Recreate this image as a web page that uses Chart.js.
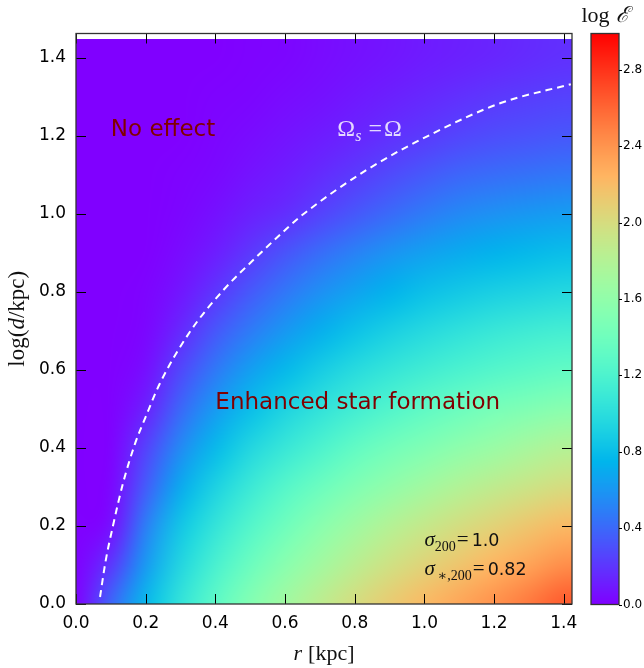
<!DOCTYPE html>
<html>
<head>
<meta charset="utf-8">
<script src="https://cdn.jsdelivr.net/npm/chart.js@4.4.1/dist/chart.umd.min.js"></script>
<style>
  html, body { margin: 0; padding: 0; background: #fff; }
  #wrap { position: relative; width: 644px; height: 668px; }
  #wrap canvas { position: absolute; left: 0; top: 0; }
</style>
</head>
<body>
<div id="wrap">
  <canvas id="main" width="644" height="668"></canvas>
  <canvas id="cbar" width="644" height="668"></canvas>
</div>
<script>
// grid nodes of the map
const rGrid = [0.0, 0.1, 0.2, 0.3, 0.4, 0.5, 0.6, 0.7, 0.8, 0.9, 1.0, 1.1, 1.2, 1.3, 1.4];
const dGrid = [0.0, 0.1, 0.2, 0.3, 0.4, 0.5, 0.6, 0.7, 0.8, 0.9, 1.0, 1.1, 1.2, 1.3, 1.4];

// log E, one row per d (bottom row first)
const logE = [
  [0, 0.40, 0.78, 1.05, 1.30, 1.52, 1.70, 1.86, 2.00, 2.12, 2.22, 2.32, 2.42, 2.53, 2.65], // d = 0.0
  [0, 0.20, 0.62, 0.95, 1.18, 1.38, 1.55, 1.70, 1.84, 1.96, 2.06, 2.15, 2.24, 2.33, 2.43], // d = 0.1
  [0, 0.04, 0.50, 0.85, 1.05, 1.24, 1.40, 1.55, 1.68, 1.80, 1.90, 1.99, 2.07, 2.15, 2.22], // d = 0.2
  [0, 0.01, 0.35, 0.70, 0.92, 1.10, 1.25, 1.38, 1.50, 1.60, 1.70, 1.79, 1.87, 1.94, 2.00], // d = 0.3
  [0, 0.00, 0.25, 0.55, 0.78, 0.95, 1.08, 1.20, 1.32, 1.42, 1.50, 1.58, 1.65, 1.73, 1.80], // d = 0.4
  [0, 0.00, 0.12, 0.40, 0.62, 0.80, 0.93, 1.04, 1.14, 1.23, 1.31, 1.38, 1.45, 1.50, 1.55], // d = 0.5
  [0, 0.00, 0.05, 0.27, 0.47, 0.64, 0.77, 0.88, 0.98, 1.06, 1.13, 1.19, 1.24, 1.28, 1.32], // d = 0.6
  [0, 0.00, 0.02, 0.15, 0.33, 0.48, 0.61, 0.72, 0.82, 0.90, 0.97, 1.03, 1.08, 1.12, 1.15], // d = 0.7
  [0, 0.00, 0.01, 0.08, 0.20, 0.34, 0.46, 0.57, 0.66, 0.74, 0.81, 0.86, 0.90, 0.93, 0.96], // d = 0.8
  [0, 0.00, 0.00, 0.04, 0.11, 0.21, 0.32, 0.42, 0.51, 0.59, 0.65, 0.70, 0.74, 0.77, 0.80], // d = 0.9
  [0, 0.00, 0.00, 0.02, 0.06, 0.12, 0.17, 0.25, 0.33, 0.41, 0.48, 0.54, 0.58, 0.61, 0.63], // d = 1.0
  [0, 0.00, 0.00, 0.01, 0.03, 0.07, 0.11, 0.16, 0.22, 0.28, 0.34, 0.39, 0.42, 0.44, 0.46], // d = 1.1
  [0, 0.00, 0.00, 0.00, 0.02, 0.04, 0.07, 0.10, 0.14, 0.18, 0.22, 0.26, 0.29, 0.31, 0.33], // d = 1.2
  [0, 0.00, 0.00, 0.00, 0.01, 0.02, 0.04, 0.06, 0.09, 0.12, 0.15, 0.18, 0.21, 0.23, 0.25], // d = 1.3
  [0, 0.00, 0.00, 0.00, 0.00, 0.01, 0.02, 0.04, 0.06, 0.08, 0.10, 0.12, 0.14, 0.16, 0.18]  // d = 1.4
];

// dashed Omega_s = Omega curve
const curveR = [0.069, 0.085, 0.106, 0.135, 0.169, 0.200, 0.241, 0.327, 0.423, 0.518, 0.605, 0.643, 0.834, 1.025, 1.217, 1.420];
const curveD = [0.018, 0.110, 0.200, 0.310, 0.410, 0.480, 0.566, 0.698, 0.805, 0.890, 0.963, 0.993, 1.113, 1.207, 1.284, 1.333];

const xTicks = [0.0, 0.2, 0.4, 0.6, 0.8, 1.0, 1.2, 1.4];
const yTicks = [0.0, 0.2, 0.4, 0.6, 0.8, 1.0, 1.2, 1.4];
const cbTicks = [0.0, 0.4, 0.8, 1.2, 1.6, 2.0, 2.4, 2.8];

const X_MAX = 1.4235;
const Y_MAX = 1.463;
const CB_MAX = 2.99;

const SERIF = '"Liberation Serif", "DejaVu Serif", serif';
const SANS = '"DejaVu Sans", sans-serif';

// matplotlib "rainbow"
function rainbow(t) {
  t = Math.min(1, Math.max(0, t));
  const r = Math.min(1, Math.abs(2 * t - 0.5));
  const g = Math.sin(Math.PI * t);
  const b = Math.cos(Math.PI * t / 2);
  return [Math.round(r * 255), Math.round(g * 255), Math.round(b * 255)];
}

// draw a list of text runs one after another from x (left) at baseline y
function drawRuns(ctx, x, y, runs, color) {
  ctx.save();
  ctx.fillStyle = color;
  ctx.textBaseline = 'alphabetic';
  ctx.textAlign = 'left';
  let cx = x;
  runs.forEach(run => {
    if (run.gap) { cx += run.gap; return; }
    ctx.font = run.font;
    ctx.fillText(run.t, cx, y + (run.dy || 0));
    cx += ctx.measureText(run.t).width;
  });
  ctx.restore();
  return cx;
}

function runsWidth(ctx, runs) {
  let w = 0;
  ctx.save();
  runs.forEach(run => {
    if (run.gap) { w += run.gap; return; }
    ctx.font = run.font;
    w += ctx.measureText(run.t).width;
  });
  ctx.restore();
  return w;
}

const heatmapPlugin = {
  id: 'heatmap',
  beforeDatasetsDraw(chart) {
    const { ctx, chartArea: a, scales: { x, y } } = chart;
    const nc = rGrid.length, nr = dGrid.length;
    const off = document.createElement('canvas');
    off.width = nc; off.height = nr;
    const octx = off.getContext('2d');
    const img = octx.createImageData(nc, nr);
    for (let j = 0; j < nr; j++) {
      for (let i = 0; i < nc; i++) {
        const c = rainbow(logE[j][i] / CB_MAX);
        const k = ((nr - 1 - j) * nc + i) * 4;
        img.data[k] = c[0]; img.data[k + 1] = c[1]; img.data[k + 2] = c[2]; img.data[k + 3] = 255;
      }
    }
    octx.putImageData(img, 0, 0);
    const dr = rGrid[1] - rGrid[0], dd = dGrid[1] - dGrid[0];
    const x0 = x.getPixelForValue(rGrid[0] - dr / 2);
    const x1 = x.getPixelForValue(rGrid[nc - 1] + dr / 2);
    const y0 = y.getPixelForValue(dGrid[nr - 1] + dd / 2);
    const y1 = y.getPixelForValue(dGrid[0] - dd / 2);
    ctx.save();
    ctx.beginPath();
    ctx.rect(a.left, a.top, a.width, a.height);
    ctx.clip();
    ctx.imageSmoothingEnabled = true;
    ctx.imageSmoothingQuality = 'high';
    ctx.drawImage(off, x0, y0, x1 - x0, y1 - y0);
    ctx.restore();
  }
};

const framePlugin = {
  id: 'frame',
  afterDatasetsDraw(chart) {
    const { ctx, chartArea: a, scales: { x, y } } = chart;

    // text inside the map
    drawRuns(ctx, x.getPixelForValue(0.1), y.getPixelForValue(1.2),
      [{ t: 'No effect', font: '23px ' + SANS }], '#800000');
    drawRuns(ctx, x.getPixelForValue(0.4), y.getPixelForValue(0.5),
      [{ t: 'Enhanced star formation', font: '23px ' + SANS }], '#800000');
    drawRuns(ctx, x.getPixelForValue(0.75), y.getPixelForValue(1.2), [
      { t: 'Ω', font: '24px ' + SERIF },
      { t: 's', font: 'italic 16px ' + SERIF, dy: 5 },
      { gap: 7 },
      { t: '=', font: '24px ' + SERIF },
      { gap: 2 },
      { t: 'Ω', font: '24px ' + SERIF }
    ], 'rgba(255,255,255,0.82)');
    drawRuns(ctx, x.getPixelForValue(1.0), y.getPixelForValue(0.15), [
      { t: 'σ', font: 'italic 21px ' + SERIF },
      { t: '200', font: '14px ' + SERIF, dy: 5 },
      { gap: 1 },
      { t: '=', font: '21px ' + SERIF },
      { gap: 3 },
      { t: '1.0', font: '17.5px ' + SANS }
    ], '#111');
    drawRuns(ctx, x.getPixelForValue(1.0), y.getPixelForValue(0.075), [
      { t: 'σ', font: 'italic 21px ' + SERIF },
      { gap: 3 },
      { t: '∗,200', font: '14px ' + SERIF, dy: 5 },
      { gap: 1 },
      { t: '=', font: '21px ' + SERIF },
      { gap: 3 },
      { t: '0.82', font: '17.5px ' + SANS }
    ], '#111');

    // inward ticks on all four sides
    ctx.save();
    ctx.strokeStyle = '#000';
    ctx.lineWidth = 1;
    ctx.beginPath();
    xTicks.forEach(v => {
      const px = Math.round(x.getPixelForValue(v)) + 0.5;
      ctx.moveTo(px, a.bottom); ctx.lineTo(px, a.bottom - 10);
      ctx.moveTo(px, a.top); ctx.lineTo(px, a.top + 10);
    });
    yTicks.forEach(v => {
      const py = Math.round(y.getPixelForValue(v)) + 0.5;
      ctx.moveTo(a.left, py); ctx.lineTo(a.left + 10, py);
      ctx.moveTo(a.right, py); ctx.lineTo(a.right - 10, py);
    });
    ctx.stroke();
    ctx.strokeStyle = '#333';
    ctx.lineWidth = 1.3;
    ctx.strokeRect(a.left, a.top, a.width, a.height);
    ctx.restore();

    // axis titles
    const xr = [
      { t: 'r', font: 'italic 22px ' + SERIF },
      { gap: 6 },
      { t: '[kpc]', font: '22px ' + SERIF }
    ];
    const xw = runsWidth(ctx, xr);
    drawRuns(ctx, (a.left + a.right) / 2 - xw / 2, 660, xr, '#111');

    const yr = [
      { t: 'log(', font: '23px ' + SERIF },
      { t: 'd', font: 'italic 23px ' + SERIF },
      { t: '/kpc)', font: '23px ' + SERIF }
    ];
    const yw = runsWidth(ctx, yr);
    ctx.save();
    ctx.translate(24, (a.top + a.bottom) / 2);
    ctx.rotate(-Math.PI / 2);
    drawRuns(ctx, -yw / 2, 0, yr, '#111');
    ctx.restore();
  }
};

const colorbarPlugin = {
  id: 'colorbar',
  beforeDatasetsDraw(chart) {
    const { ctx, chartArea: a, scales: { y } } = chart;
    ctx.save();
    ctx.beginPath();
    ctx.rect(a.left, a.top, a.width, a.height);
    ctx.clip();
    for (let py = Math.floor(a.top); py < Math.ceil(a.bottom); py++) {
      const c = rainbow(y.getValueForPixel(py + 0.5) / CB_MAX);
      ctx.fillStyle = 'rgb(' + c.join(',') + ')';
      ctx.fillRect(a.left, py, a.width, 1);
    }
    ctx.restore();

    ctx.save();
    ctx.strokeStyle = '#333';
    ctx.lineWidth = 1.3;
    ctx.strokeRect(a.left, a.top, a.width, a.height);
    ctx.strokeStyle = '#000';
    ctx.lineWidth = 1;
    ctx.beginPath();
    cbTicks.forEach(v => {
      const py = Math.round(y.getPixelForValue(v)) + 0.5;
      ctx.moveTo(a.right, py); ctx.lineTo(a.right + 3, py);
    });
    ctx.stroke();
    ctx.restore();

    const tr = [
      { t: 'log', font: '22px ' + SERIF },
      { gap: 6 },
      { t: 'ℰ', font: 'italic 22px ' + SERIF }
    ];
    const tw = runsWidth(ctx, tr);
    drawRuns(ctx, (a.left + a.right) / 2 - tw / 2, 22, tr, '#111');
  }
};

const noTickMarks = { display: false, drawTicks: false };

new Chart(document.getElementById('main'), {
  type: 'scatter',
  data: {
    datasets: [{
      data: curveR.map((r, i) => ({ x: r, y: curveD[i] })),
      showLine: true,
      borderColor: '#ffffff',
      borderWidth: 2,
      borderDash: [7, 5],
      pointRadius: 0,
      cubicInterpolationMode: 'monotone',
      fill: false
    }]
  },
  options: {
    responsive: false,
    animation: false,
    events: [],
    layout: { padding: { left: 0, right: 72, top: 33.5, bottom: 0 } },
    plugins: { legend: { display: false }, tooltip: { enabled: false } },
    scales: {
      x: {
        type: 'linear',
        min: 0,
        max: X_MAX,
        afterBuildTicks: s => { s.ticks = xTicks.map(v => ({ value: v })); },
        afterFit: s => { s.height = 64; },
        grid: noTickMarks,
        border: { display: false },
        ticks: {
          color: '#000',
          font: { family: SANS, size: 17 },
          padding: 9,
          maxRotation: 0,
          autoSkip: false,
          callback: v => v.toFixed(1)
        }
      },
      y: {
        type: 'linear',
        min: 0,
        max: Y_MAX,
        afterBuildTicks: s => { s.ticks = yTicks.map(v => ({ value: v })); },
        afterFit: s => { s.width = 76; },
        grid: noTickMarks,
        border: { display: false },
        ticks: {
          color: '#000',
          font: { family: SANS, size: 17 },
          padding: 10,
          autoSkip: false,
          callback: v => v.toFixed(1)
        }
      }
    }
  },
  plugins: [heatmapPlugin, framePlugin]
});

new Chart(document.getElementById('cbar'), {
  type: 'scatter',
  data: { datasets: [] },
  options: {
    responsive: false,
    animation: false,
    events: [],
    layout: { padding: { left: 591, right: 0, top: 33.5, bottom: 63.5 } },
    plugins: { legend: { display: false }, tooltip: { enabled: false } },
    scales: {
      x: { display: false, min: 0, max: 1 },
      y: {
        type: 'linear',
        position: 'right',
        min: 0,
        max: CB_MAX,
        afterBuildTicks: s => { s.ticks = cbTicks.map(v => ({ value: v })); },
        afterFit: s => { s.width = 25; },
        grid: noTickMarks,
        border: { display: false },
        ticks: {
          color: '#000',
          font: { family: SANS, size: 12 },
          padding: 4,
          autoSkip: false,
          callback: v => v.toFixed(1)
        }
      }
    }
  },
  plugins: [colorbarPlugin]
});
</script>
</body>
</html>
